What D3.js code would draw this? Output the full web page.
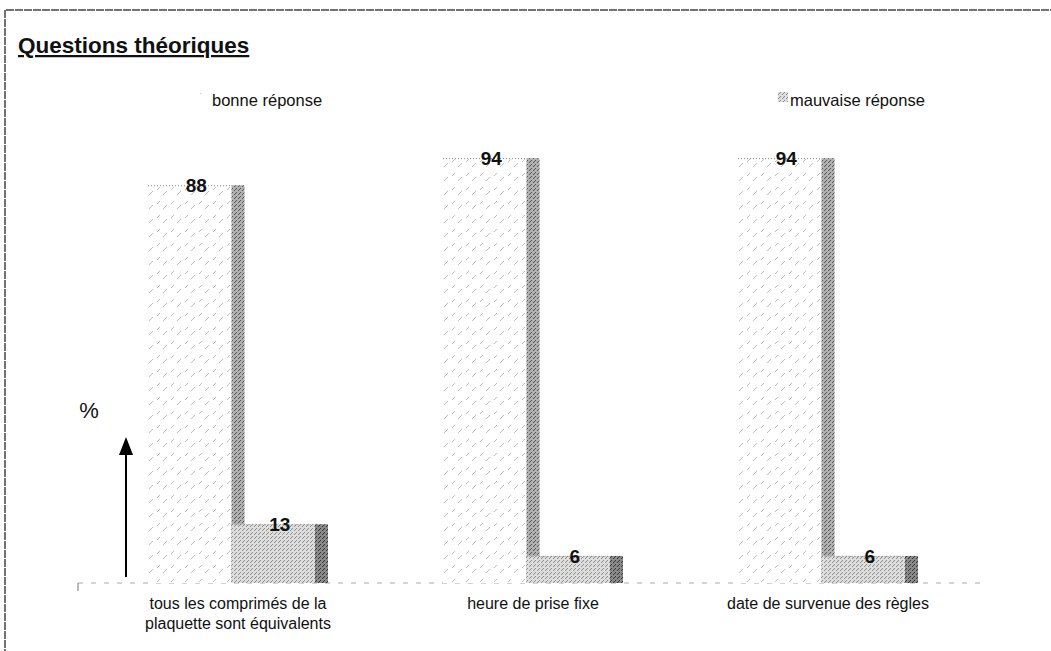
<!DOCTYPE html>
<html>
<head>
<meta charset="utf-8">
<script src="https://cdn.jsdelivr.net/npm/d3@7"></script>
<style>
body { margin:0; background:#fff; }
text { font-family: "Liberation Sans", Arial, sans-serif; fill:#111; }
</style>
</head>
<body>
<div id="chart"></div>
<script>
var categories = [["tous les comprimés de la", "plaquette sont équivalents"], ["heure de prise fixe"], ["date de survenue des règles"]];
var series = ["bonne réponse", "mauvaise réponse"];
var bonne = [88, 94, 94];
var mauvaise = [13, 6, 6];

var data = categories.map(function(c, i){
	return {cat: c, values: [{key: series[0], v: bonne[i]}, {key: series[1], v: mauvaise[i]}]};
});

var width = 1051, height = 651;
var svg = d3.select("#chart").append("svg")
     .attr("width", width)
     .attr("height", height);

var defs = svg.append("defs");
// broken diagonal hatch for good answers
var p1 = defs.append("pattern").attr("id", "hatch").attr("patternUnits", "userSpaceOnUse")
     .attr("width", 14).attr("height", 14);
p1.append("rect").attr("width", 14).attr("height", 14).attr("fill", "#fff");
p1.append("path").attr("d", "M1,13 L5,9 M9,8 L12,5 M-5,8 L-2,5 M15,13 L19,9")
     .attr("stroke", "#b0b0b0").attr("stroke-width", 0.8);
function stipple(id, bg, dot){
	var p = defs.append("pattern").attr("id", id).attr("patternUnits", "userSpaceOnUse")
	     .attr("width", 4).attr("height", 4);
	p.append("rect").attr("width", 4).attr("height", 4).attr("fill", bg);
	p.append("rect").attr("x", 0).attr("y", 0).attr("width", 1).attr("height", 1).attr("fill", dot);
	p.append("rect").attr("x", 2).attr("y", 2).attr("width", 1).attr("height", 1).attr("fill", dot);
	p.append("rect").attr("x", 3).attr("y", 1).attr("width", 1).attr("height", 1).attr("fill", dot);
}
stipple("badFront", "#dedede", "#8a8a8a");
stipple("goodSide", "#b0b0b0", "#555");
stipple("badSide", "#8a8a8a", "#333");

// frame
svg.append("line").attr("x1", 6).attr("x2", width).attr("y1", 10).attr("y2", 10)
     .attr("stroke", "#444").attr("stroke-width", 1.5).attr("stroke-dasharray", "8 1");
svg.append("line").attr("x1", 5).attr("x2", 5).attr("y1", 10).attr("y2", height)
     .attr("stroke", "#444").attr("stroke-width", 1.5).attr("stroke-dasharray", "8 1");

svg.append("text")
     .attr("x", 18).attr("y", 53)
     .style("font-size", "22.5px").style("font-weight", "bold")
     .style("text-decoration", "underline")
     .text("Questions théoriques");

var x0 = d3.scaleBand().domain(d3.range(categories.length)).range([148, 905])
     .paddingInner(0.434).paddingOuter(0);
var x1 = d3.scaleBand().domain(series).range([0, x0.bandwidth()]).padding(0);
var y = d3.scaleLinear().domain([0, 100]).range([583, 131]);
var depth = 13;

// baseline
svg.append("line").attr("x1", 78).attr("x2", 985).attr("y1", y(0)).attr("y2", y(0))
     .attr("stroke", "#aaa").attr("stroke-dasharray", "5 8");
svg.append("line").attr("x1", 78).attr("x2", 78).attr("y1", y(0)).attr("y2", y(0) + 8)
     .attr("stroke", "#777");

var groups = svg.selectAll(".grp")
     .data(data)
     .enter().append("g")
     .attr("class", "grp")
     .attr("transform", function(d, i){ return "translate(" + x0(i) + ",0)"; });

var bars = groups.selectAll(".bar")
     .data(function(d){ return d.values; })
     .enter().append("g")
     .attr("class", "bar");

bars.append("rect")
     .attr("x", function(d){ return x1(d.key); })
     .attr("y", function(d){ return y(d.v); })
     .attr("width", x1.bandwidth())
     .attr("height", function(d){ return y(0) - y(d.v); })
     .attr("fill", function(d){ return d.key === series[0] ? "url(#hatch)" : "url(#badFront)"; });

bars.append("rect")
     .attr("x", function(d){ return x1(d.key) + x1.bandwidth(); })
     .attr("y", function(d){ return y(d.v); })
     .attr("width", depth)
     .attr("height", function(d){ return y(0) - y(d.v); })
     .attr("fill", function(d){ return d.key === series[0] ? "url(#goodSide)" : "url(#badSide)"; });

bars.append("line")
     .attr("x1", function(d){ return x1(d.key); })
     .attr("x2", function(d){ return x1(d.key) + x1.bandwidth(); })
     .attr("y1", function(d){ return y(d.v) + 0.5; })
     .attr("y2", function(d){ return y(d.v) + 0.5; })
     .attr("stroke", "#888").attr("stroke-dasharray", "1 2");

bars.append("text")
     .attr("x", function(d){ return x1(d.key) + (x1.bandwidth() + depth) / 2; })
     .attr("y", function(d){ return y(d.v) + 7; })
     .attr("text-anchor", "middle")
     .style("font-size", "19px").style("font-weight", "bold")
     .text(function(d){ return d.v; });

// category labels
groups.append("text")
     .attr("text-anchor", "middle")
     .attr("x", (x0.bandwidth() + depth) / 2)
     .attr("y", 609)
     .style("font-size", "16px")
     .selectAll("tspan")
     .data(function(d){ return d.cat; })
     .enter().append("tspan")
     .attr("x", (x0.bandwidth() + depth) / 2)
     .attr("dy", function(d, i){ return i === 0 ? 0 : 20; })
     .text(function(d){ return d; });

// legend
var legendX = [200, 778];
series.forEach(function(s, i){
	svg.append("rect")
	     .attr("x", legendX[i]).attr("y", 92)
	     .attr("width", 10).attr("height", 10)
	     .attr("fill", i === 0 ? "url(#hatch)" : "url(#badFront)");
	svg.append("text")
	     .attr("x", legendX[i] + 12).attr("y", 106)
	     .style("font-size", "16.5px")
	     .text(s);
});

// axis hint
svg.append("text").attr("x", 89).attr("y", 418).attr("text-anchor", "middle")
     .style("font-size", "22px").text("%");
svg.append("line").attr("x1", 126).attr("x2", 126).attr("y1", 577).attr("y2", 452)
     .attr("stroke", "#000").attr("stroke-width", 2);
svg.append("path").attr("d", "M119,455 L126,437 L133,455 Z").attr("fill", "#000");
</script>
</body>
</html>
